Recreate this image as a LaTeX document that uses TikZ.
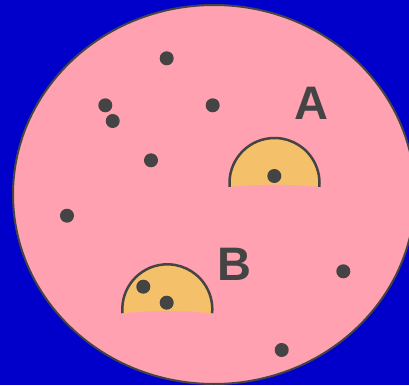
\documentclass[tikz,border=0pt]{standalone}
\usepackage{fontspec}
\setmainfont{Liberation Sans}
\usetikzlibrary{positioning}
\definecolor{bgblue}{RGB}{0,0,202}
\definecolor{cellpink}{RGB}{255,161,177}
\definecolor{cuporange}{RGB}{245,192,106}
\definecolor{inkgray}{RGB}{68,68,68}
\tikzset{
	dot/.style={circle, fill=inkgray, minimum size=14pt, inner sep=0pt},
	letter/.style={text=inkgray, font=\fontsize{47}{47}\selectfont\bfseries, inner sep=0pt},
	rim/.style={draw=inkgray, line width=2pt},
	cup/.style={draw=inkgray, line width=2.5pt}
}

\begin{document}
\begin{tikzpicture}[x=1pt,y=-1pt]
	\fill[bgblue] (0,0) rectangle (409,385);
	\clip (0,0) rectangle (409,385);
	\filldraw[rim, fill=cellpink] (214,194.5) ellipse [x radius=201, y radius=189.5];
	% the two half cups
	\foreach \cx/\cy in {274.5/183, 167.3/309.3} {
		\fill[cuporange] (\cx,\cy) ++(175:45) arc[start angle=175, end angle=365, radius=45] to[bend right=5] cycle;
		\draw[cup] (\cx,\cy) ++(175:45) arc[start angle=175, end angle=365, radius=45];
	}
	\foreach \x/\y [count=\i] in {166.7/58.3, 105.3/105.3, 112.7/121, 212.7/105.3, 151/160.3, 67/215.7,
		274.3/176, 143.3/286.7, 166.7/302.7, 343.3/271.3, 281.7/350}
		\node[dot] (dot\i) at (\x,\y) {};
	\node[letter] (labA) at (311.7,103.3) {A};
	\node[letter] (labB) at (234.3,264.3) {B};
\end{tikzpicture}
\end{document}
